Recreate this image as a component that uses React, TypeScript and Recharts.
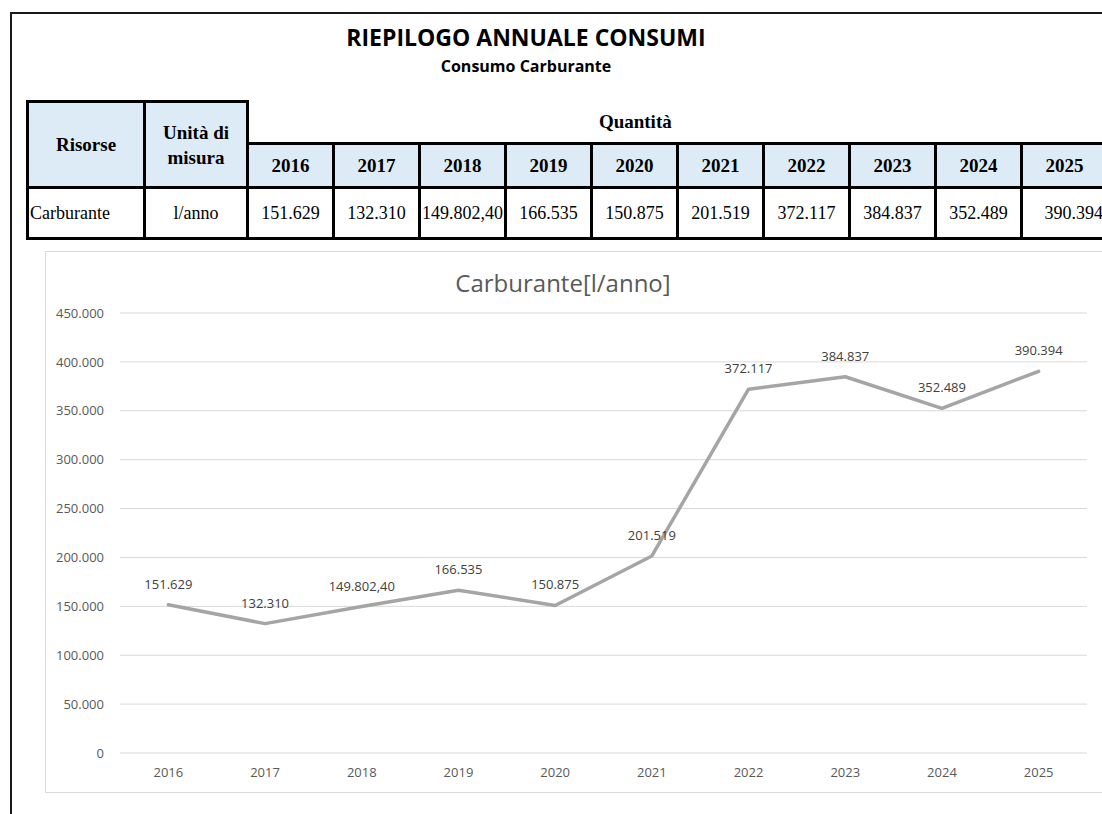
import { LineChart, Line, XAxis, YAxis, CartesianGrid, LabelList } from 'recharts'

// Consumo carburante per anno (l/anno)
const years = ['2016', '2017', '2018', '2019', '2020', '2021', '2022', '2023', '2024', '2025']
const consumo = [151629, 132310, 149802.4, 166535, 150875, 201519, 372117, 384837, 352489, 390394]
const consumoLabels = ['151.629', '132.310', '149.802,40', '166.535', '150.875', '201.519', '372.117', '384.837', '352.489', '390.394']
const yTicks = [0, 50000, 100000, 150000, 200000, 250000, 300000, 350000, 400000, 450000]

const chartData = years.map((year, i) => ({ year, value: consumo[i], label: consumoLabels[i] }))

const formatThousands = (v: number) => String(v).replace(/\B(?=(\d{3})+(?!\d))/g, '.')

const sans = '"Open Sans", "Noto Sans", sans-serif'
const serif = '"Liberation Serif", "Times New Roman", serif'
const border = '3px solid #000'
const headBg = '#DDEBF7'

const cell: React.CSSProperties = {
  border,
  padding: 0,
  textAlign: 'center',
  verticalAlign: 'middle',
  fontSize: 18,
  color: '#000',
  whiteSpace: 'nowrap',
}

const colWidths = [117, 103, ...years.map((_, i) => (i === years.length - 1 ? 100 : 86))]

function ConsumiTable() {
  const last = years.length - 1
  return (
    <table
      style={{
        position: 'absolute',
        left: 26,
        top: 100,
        width: colWidths.reduce((a, b) => a + b, 0),
        borderCollapse: 'collapse',
        tableLayout: 'fixed',
        fontFamily: serif,
      }}
    >
      <colgroup>
        {colWidths.map((w, i) => (
          <col key={i} style={{ width: w }} />
        ))}
      </colgroup>
      <tbody>
        <tr style={{ height: 42 }}>
          <td rowSpan={2} style={{ ...cell, background: headBg, fontWeight: 'bold', fontSize: 19 }}>
            Risorse
          </td>
          <td rowSpan={2} style={{ ...cell, background: headBg, fontWeight: 'bold', fontSize: 19, lineHeight: '25px' }}>
            Unità di
            <br />
            misura
          </td>
          <td colSpan={9} style={{ border: 'none', padding: 0, textAlign: 'center', fontWeight: 'bold', fontSize: 19 }}>
            Quantità
          </td>
          <td style={{ border: 'none' }} />
        </tr>
        <tr style={{ height: 44 }}>
          {years.map((y, i) => (
            <td
              key={y}
              style={{
                ...cell,
                background: headBg,
                fontWeight: 'bold',
                fontSize: 19,
                paddingRight: i === last ? 14 : 0,
              }}
            >
              {y}
            </td>
          ))}
        </tr>
        <tr style={{ height: 51 }}>
          <td style={{ ...cell, textAlign: 'left', paddingLeft: 1 }}>Carburante</td>
          <td style={cell}>l/anno</td>
          {consumoLabels.map((v, i) => (
            <td
              key={years[i]}
              style={i === last ? { ...cell, textAlign: 'right', paddingRight: 17 } : cell}
            >
              {v}
            </td>
          ))}
        </tr>
      </tbody>
    </table>
  )
}

export default function App() {
  return (
    <div
      style={{
        position: 'fixed',
        left: 0,
        top: 0,
        width: 1102,
        height: 814,
        overflow: 'hidden',
        background: '#fff',
      }}
    >
      {/* cornice del foglio */}
      <div
        style={{
          position: 'absolute',
          left: 10,
          top: 12,
          width: 1200,
          height: 900,
          borderTop: '2px solid #1a1a1a',
          borderLeft: '2px solid #1a1a1a',
        }}
      />
      <div
        style={{
          position: 'absolute',
          left: 0,
          width: 1052,
          top: 21,
          textAlign: 'center',
          fontFamily: sans,
          fontWeight: 'bold',
          fontSize: 23,
          lineHeight: '32px',
          color: '#000',
        }}
      >
        RIEPILOGO ANNUALE CONSUMI
      </div>
      <div
        style={{
          position: 'absolute',
          left: 0,
          width: 1052,
          top: 55,
          textAlign: 'center',
          fontFamily: sans,
          fontWeight: 'bold',
          fontSize: 16,
          lineHeight: '22px',
          color: '#000',
        }}
      >
        Consumo Carburante
      </div>

      <ConsumiTable />

      {/* grafico */}
      <div
        style={{
          position: 'absolute',
          left: 45,
          top: 251,
          width: 1070,
          height: 540,
          border: '1px solid #D9D9D9',
          background: '#fff',
        }}
      >
        <div
          style={{
            position: 'absolute',
            left: 0,
            width: 1034,
            top: 15,
            textAlign: 'center',
            fontFamily: sans,
            fontSize: 24,
            lineHeight: '32px',
            color: '#595959',
          }}
        >
          Carburante[l/anno]
        </div>
        <LineChart
          width={1068}
          height={539}
          data={chartData}
          margin={{ top: 61, right: 27, left: 0, bottom: 0 }}
          style={{ fontFamily: sans }}
        >
          <CartesianGrid vertical={false} stroke="#D9D9D9" strokeWidth={1} />
          <XAxis
            dataKey="year"
            scale="band"
            height={38}
            axisLine={false}
            tickLine={false}
            tickSize={0}
            tickMargin={15}
            tick={{ fill: '#595959', fontSize: 13 }}
          />
          <YAxis
            domain={[0, 450000]}
            ticks={yTicks}
            width={74}
            axisLine={false}
            tickLine={false}
            tickSize={0}
            tickMargin={16}
            tickFormatter={formatThousands}
            tick={{ fill: '#595959', fontSize: 13 }}
          />
          <Line
            type="linear"
            dataKey="value"
            stroke="#A5A5A5"
            strokeWidth={3.5}
            strokeLinecap="round"
            strokeLinejoin="round"
            dot={false}
            activeDot={false}
            isAnimationActive={false}
          >
            <LabelList dataKey="label" position="top" offset={16} fill="#404040" fontSize={13} />
          </Line>
        </LineChart>
      </div>
    </div>
  )
}
